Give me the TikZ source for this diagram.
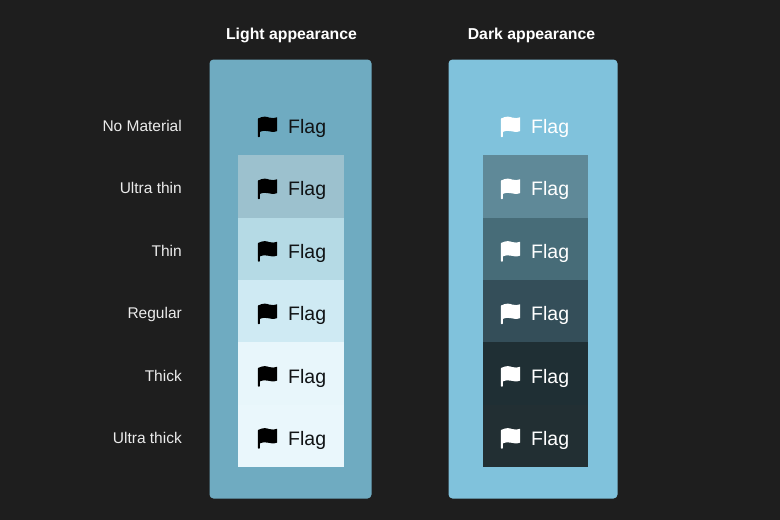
\documentclass[tikz,border=0pt]{standalone}
\usepackage{fontspec}
\setmainfont{Liberation Sans}
\usepackage{tikz}
\usetikzlibrary{positioning}
\definecolor{bgcolor}{HTML}{1E1E1E}
\definecolor{lightpanel}{HTML}{6FABC1}
\definecolor{darkpanel}{HTML}{80C2DC}
\definecolor{lightA}{HTML}{9CC1CE}
\definecolor{lightB}{HTML}{B5DAE5}
\definecolor{lightC}{HTML}{CFEAF3}
\definecolor{lightD}{HTML}{E8F6FB}
\definecolor{lightE}{HTML}{EAF7FC}
\definecolor{darkA}{HTML}{5F8998}
\definecolor{darkB}{HTML}{476C78}
\definecolor{darkC}{HTML}{344E59}
\definecolor{darkD}{HTML}{1F2F34}
\definecolor{darkE}{HTML}{222F33}
\tikzset{
  panel/.style={inner sep=0pt, rounded corners=4pt},
  rowlabel/.style={anchor=base east, inner sep=0pt, text=white!92!black, font=\fontsize{15.5}{17}\selectfont},
  heading/.style={anchor=base, inner sep=0pt, text=white, font=\fontsize{15.8}{18}\selectfont\bfseries},
  flagtext/.style={anchor=base west, inner sep=0pt, font=\fontsize{19.5}{22}\selectfont},
}
% flag icon: left edge x, row centre y, colour
\newcommand{\flagicon}[3]{
  \fill[#3, rounded corners=0.6pt] (#1,#2+10.6) -- (#1,#2-8) -- (#1+2,#2-8.5) -- (#1+2,#2+10.6) -- cycle;
  \fill[#3] (#1+0.5,#2-8) .. controls (#1+5,#2-10.6) and (#1+9,#2-10) .. (#1+11,#2-9)
    .. controls (#1+14,#2-8) and (#1+17,#2-8.4) .. (#1+19.3,#2-9.2)
    -- (#1+19.3,#2+4.6) .. controls (#1+16,#2+5.8) and (#1+13,#2+5.6) .. (#1+11,#2+4.8)
    .. controls (#1+8,#2+3.8) and (#1+5,#2+4) .. (#1+0.5,#2+6) -- cycle;
}
\begin{document}
\begin{tikzpicture}[x=1pt,y=-1pt]
  \useasboundingbox (0,0) rectangle (780,520);
  \fill[bgcolor] (0,0) rectangle (780,520);
  % Headings
  \node[heading] (lighthead) at (291.5,39) {Light appearance};
  \node[heading] (darkhead) at (531.5,39) {Dark appearance};
  % Panels
  \fill[lightpanel, panel] (209.5,59.5) rectangle (371.5,498.5);
  \fill[darkpanel, panel] (448.5,59.5) rectangle (617.5,498.5);
  % Light: material rows
  \fill[lightA] (238,155) rectangle (343.5,217.5);
  \fill[lightB] (238,217.5) rectangle (343.5,280);
  \fill[lightC] (238,280) rectangle (343.5,342);
  \fill[lightD] (238,342) rectangle (343.5,404.5);
  \fill[lightE] (238,404.5) rectangle (343.5,467);
  % Dark: material rows
  \fill[darkA] (482.5,155) rectangle (588,217.5);
  \fill[darkB] (482.5,217.5) rectangle (588,280);
  \fill[darkC] (482.5,280) rectangle (588,342);
  \fill[darkD] (482.5,342) rectangle (588,404.5);
  \fill[darkE] (482.5,404.5) rectangle (588,467);
  % Row labels and flags
  \foreach \rowy/\rowname/\rowtext in {126.5/none/No Material,188.5/ultrathin/Ultra thin,251/thin/Thin,313.5/regular/Regular,376/thick/Thick,438/ultrathick/Ultra thick}{
    \node[rowlabel] (label-\rowname) at (182,\rowy+5) {\rowtext};
    \flagicon{257.8}{\rowy}{black}
    \node[flagtext, text=black!90!lightA] (light-\rowname) at (288,\rowy+7) {Flag};
    \flagicon{500.8}{\rowy}{white}
    \node[flagtext, text=white] (dark-\rowname) at (531,\rowy+7) {Flag};
  }
\end{tikzpicture}
\end{document}
